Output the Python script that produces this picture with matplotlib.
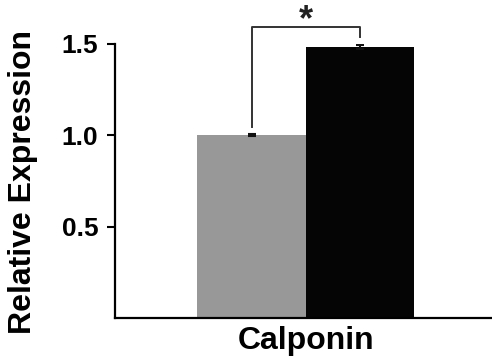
import matplotlib
matplotlib.use("Agg")
import matplotlib.pyplot as plt

# data
groups = ["Control", "Treated"]
values = [1.0, 1.48]
errors = [0.005, 0.01]
colors = ["#989898", "#050505"]
category = "Calponin"
yticks = [0.5, 1.0, 1.5]
ytick_labels = ["0.5", "1.0", "1.5"]

plt.rcParams["font.family"] = ["Liberation Sans", "DejaVu Sans"]
plt.rcParams["font.weight"] = "bold"

fig = plt.figure(figsize=(4.92, 3.62), dpi=100)
ax = fig.add_axes([0.2337, 0.1215, 0.77, 0.7583])

xpos = [-0.5, 0.5]
ax.bar(xpos, values, width=1.0, color=colors, yerr=errors,
       error_kw=dict(ecolor="#111111", elinewidth=1.5, capsize=3, capthick=1.5))

ax.set_xlim(-1.759, 1.731)
ax.set_ylim(0, 1.5)

ax.set_yticks(yticks)
ax.set_yticklabels(ytick_labels, fontsize=19, fontweight="bold")
ax.set_xticks([0])
ax.set_xticklabels([category], fontsize=23, fontweight="bold")

ax.tick_params(axis="y", direction="out", length=6, width=1.5, pad=6)
ax.tick_params(axis="x", length=0, pad=6)

ax.spines["top"].set_visible(False)
ax.spines["right"].set_visible(False)
ax.spines["left"].set_linewidth(1.6)
ax.spines["bottom"].set_linewidth(1.6)

ax.set_ylabel("Relative Expression", fontsize=23, fontweight="bold",
              va="center")
ax.yaxis.set_label_coords(-0.244, 0.495)

# significance bracket
ax.plot([xpos[0], xpos[0], xpos[1], xpos[1]], [1.044, 1.59, 1.59, 1.535],
        color="#333333", lw=1.4, clip_on=False)
ax.text(0.0, 1.625, "*", ha="center", va="center", fontsize=26,
        fontweight="bold", color="#222222", clip_on=False)

fig.savefig("out.png", dpi=100)
